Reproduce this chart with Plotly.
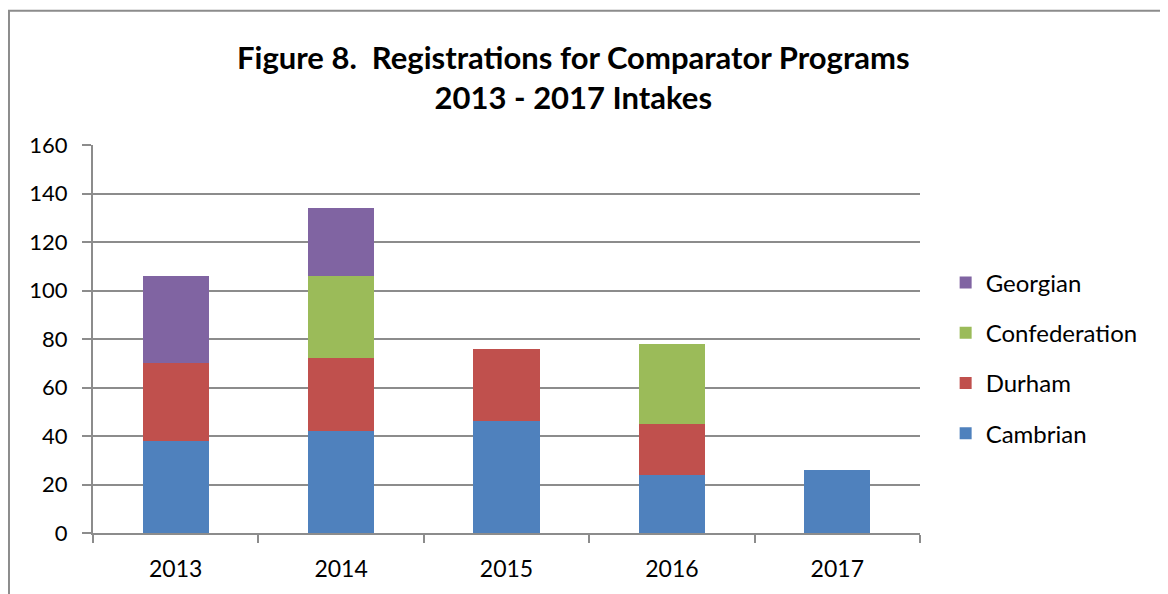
import plotly.graph_objects as go

years = ["2013", "2014", "2015", "2016", "2017"]
cambrian = [38, 42, 46, 24, 26]
durham = [32, 30, 30, 21, None]
confederation = [None, 34, None, 33, None]
georgian = [36, 28, None, None, None]

series = [
    ("Cambrian", cambrian, "#4f81bd", 4),
    ("Durham", durham, "#c0504d", 3),
    ("Confederation", confederation, "#9bbb59", 2),
    ("Georgian", georgian, "#8064a2", 1),
]

fig = go.Figure()
for name, vals, color, rank in series:
    fig.add_trace(go.Bar(x=years, y=vals, name=name, legendgroup=name, legendrank=rank,
                         marker=dict(color=color, line=dict(width=0))))

grid = "#8c8c8c"
font = "Lato, 'Open Sans', sans-serif"

fig.update_layout(
    barmode="stack",
    bargap=0.6,
    width=1168, height=594,
    margin=dict(l=85, r=256, t=137, b=69),
    paper_bgcolor="white", plot_bgcolor="white",
    font=dict(family=font, size=22, color="black"),
    title=dict(text="<b>Figure 8.  Registrations for Comparator Programs<br>2013 - 2017 Intakes</b>",
               x=0.484, xanchor="center", xref="container", y=0.897, yanchor="top",
               font=dict(size=31, family=font)),
    legend=dict(x=1.031, xanchor="left", y=0.451, yanchor="middle",
                traceorder="grouped", tracegroupgap=16,
                font=dict(size=24)),
    xaxis=dict(showline=True, linecolor=grid, linewidth=2, ticks="outside",
               tickson="boundaries", ticklen=8, tickcolor=grid, tickwidth=2,
               ticklabelstandoff=14, tickfont=dict(size=23), showgrid=False),
    yaxis=dict(range=[0, 160], dtick=20, showgrid=True, gridcolor=grid, gridwidth=2,
               showline=True, linecolor=grid, linewidth=2, ticks="outside",
               ticklen=9, tickcolor=grid, tickwidth=2, ticklabelstandoff=10,
               tickfont=dict(size=22), zeroline=False),
    shapes=[dict(type="rect", xref="paper", yref="paper",
                 x0=-0.1016, x1=1.35, y0=-0.25, y1=1.346,
                 line=dict(color="#8c8c8c", width=2), fillcolor="rgba(0,0,0,0)")],
)

fig.write_html("out.html")
